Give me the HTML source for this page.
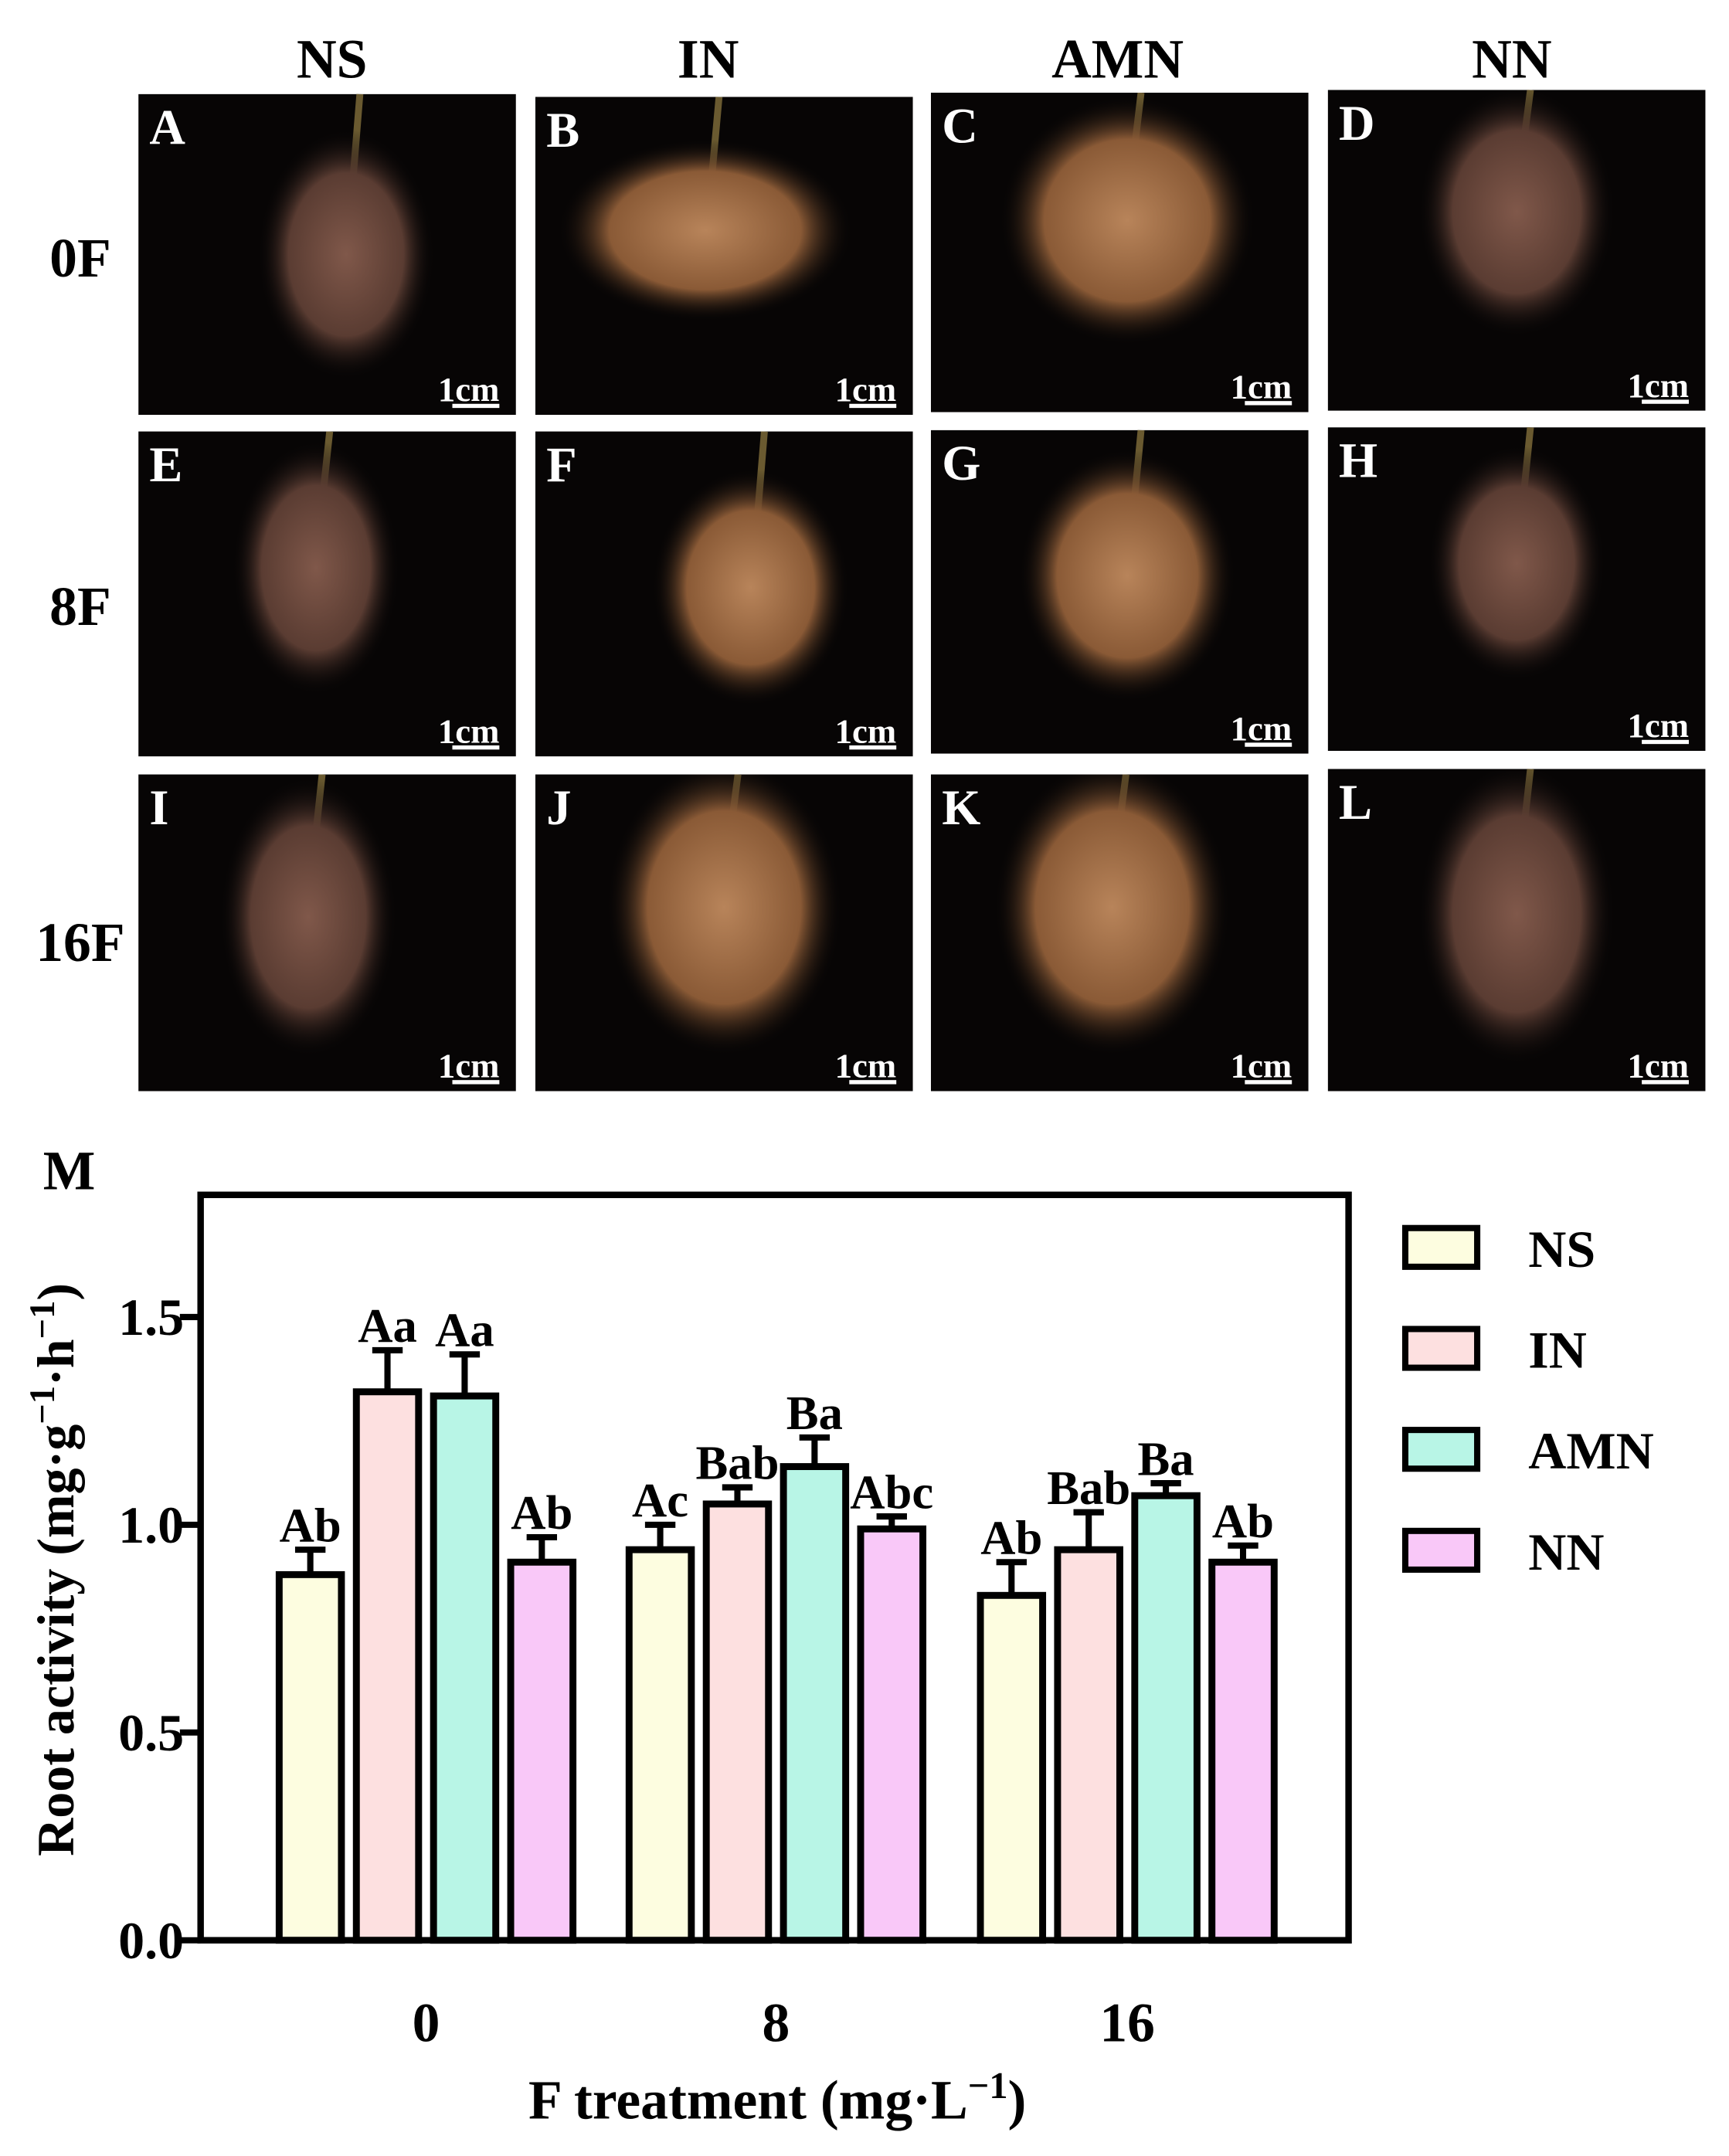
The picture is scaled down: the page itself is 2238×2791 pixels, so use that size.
<!DOCTYPE html>
<html><head><meta charset="utf-8"><style>
html,body{margin:0;padding:0;background:#fff}
svg{display:block}
text{font-family:"Liberation Serif",serif;font-weight:bold}
</style></head><body>
<svg id="fig" width="2238" height="2791" viewBox="0 0 1250 1559" xmlns="http://www.w3.org/2000/svg">
<defs>
<radialGradient id="rootA" cx="50%" cy="50%" r="50%"><stop offset="0" stop-color="#80584a"/><stop offset="0.65" stop-color="#5a3c32"/><stop offset="1" stop-color="#070505" stop-opacity="0"/></radialGradient>
<radialGradient id="rootB" cx="50%" cy="50%" r="50%"><stop offset="0" stop-color="#b8845a"/><stop offset="0.65" stop-color="#8a5a36"/><stop offset="1" stop-color="#070505" stop-opacity="0"/></radialGradient>
</defs>
<g id="photos"></g>
<g id="chart"></g>
</svg>
<script>
const NS='http://www.w3.org/2000/svg';
function mk(tag,attrs,parent,txt){const e=document.createElementNS(NS,tag);for(const k in attrs)e.setAttribute(k,attrs[k]);if(txt!==undefined)e.textContent=txt;parent.appendChild(e);return e;}

// ---- photo grid ----
const photos=document.getElementById('photos');
const defs=document.querySelector('defs');
const colHeads=['NS','IN','AMN','NN'];
const colHeadX=[240,512,808,1093];
const rowHeads=['0F','8F','16F'];
const rowHeadY=[200,452,695];
const panelLetters=['A','B','C','D','E','F','G','H','I','J','K','L'];
const panelX=[100,387,673,960];
const panelY=[[68,70,67,65],[312,312,311,309],[560,560,560,556]];
const panelH=[[232,230,231,232],[235,235,234,234],[229,229,229,233]];
const blobs=[[[0.55,0.5,0.18,0.3,'rootA'],[0.45,0.42,0.3,0.22,'rootB'],[0.52,0.4,0.26,0.3,'rootB'],[0.5,0.38,0.2,0.3,'rootA']],
[[0.47,0.42,0.17,0.3,'rootA'],[0.57,0.48,0.2,0.28,'rootB'],[0.52,0.45,0.22,0.3,'rootB'],[0.5,0.42,0.18,0.28,'rootA']],
[[0.45,0.45,0.18,0.34,'rootA'],[0.5,0.42,0.24,0.36,'rootB'],[0.48,0.42,0.24,0.36,'rootB'],[0.5,0.45,0.2,0.36,'rootA']]];
colHeads.forEach((h,i)=>{const t=mk('text',{x:colHeadX[i],y:56,'font-size':40,'text-anchor':'middle',fill:'#000'},photos,h);
});
rowHeads.forEach((h,i)=>{const t=mk('text',{x:58,y:rowHeadY[i],'font-size':40,'text-anchor':'middle',fill:'#000'},photos,h);
});
for(let r=0;r<3;r++)for(let c=0;c<4;c++){
  const x=panelX[c],y=panelY[r][c],w=273,h=panelH[r][c],L=panelLetters[r*4+c];
  const cp=mk('clipPath',{id:'clip'+L},defs);
  mk('rect',{x:x,y:y,width:w,height:h},cp);
  const g=mk('g',{'clip-path':'url(#clip'+L+')'},photos);
  
  
  mk('rect',{x:x,y:y,width:w,height:h,fill:'#070505'},g);
  const b=blobs[r][c];
  const cx=x+b[0]*w,cy=y+b[1]*h;
  mk('line',{x1:cx+10,y1:y,x2:cx+4,y2:cy-b[3]*h*0.6,stroke:'#6a5a30','stroke-width':5},g);
  mk('ellipse',{cx:cx,cy:cy,rx:b[2]*w*1.3,ry:b[3]*h*1.3,fill:'url(#'+b[4]+')'},g);
  mk('text',{x:x+8,y:y+36,'font-size':36,fill:'#fff'},g,L);
  mk('text',{x:x+w-12,y:y+h-10,'font-size':25,fill:'#fff','text-anchor':'end'},g,'1cm');
  mk('rect',{x:x+w-46,y:y+h-8,width:34,height:3,fill:'#fff'},g);
}

// ---- chart data ----
const groups=['0','8','16'];
const seriesNames=['NS','IN','AMN','NN'];
const NSvals=[0.88,0.94,0.83];
const INvals=[1.32,1.05,0.94];
const AMNvals=[1.31,1.14,1.07];
const NNvals=[0.91,0.99,0.91];
const NSerr=[0.06,0.06,0.08];
const INerr=[0.10,0.04,0.09];
const AMNerr=[0.10,0.07,0.03];
const NNerr=[0.06,0.03,0.04];
const NSlab=['Ab','Ac','Ab'];
const INlab=['Aa','Bab','Bab'];
const AMNlab=['Aa','Ba','Ba'];
const NNlab=['Ab','Abc','Ab'];
const yTicks=[0,0.5,1.0,1.5];
const yTickLabels=['0.0','0.5','1.0','1.5'];

const colors=['#fdfde0','#fde0e0','#b8f5e6','#f9c8f8'];
const vals=[NSvals,INvals,AMNvals,NNvals];
const errs=[NSerr,INerr,AMNerr,NNerr];
const labs=[NSlab,INlab,AMNlab,NNlab];
const chart=document.getElementById('chart');
const PL=145,PR=975,PT=864,PB=1403,YMAX=1.794;
const yS=v=>PB-(v/YMAX)*(PB-PT);
const gx=[308,561,815];
const xS=(gi,si)=>gx[gi]+(si-1.5)*55.8;
const BW=45;

const frame=mk('rect',{x:PL,y:PT,width:PR-PL,height:PB-PT,fill:'none',stroke:'#000','stroke-width':4.7},chart);

yTicks.forEach((v,i)=>{
  mk('line',{x1:PL-15,y1:yS(v),x2:PL,y2:yS(v),stroke:'#000','stroke-width':4.5},chart);
  const t=mk('text',{x:PL-12,y:yS(v)+13,'font-size':38,'text-anchor':'end'},chart,yTickLabels[i]);
  
});
groups.forEach((gname,gi)=>{
  const t=mk('text',{x:gx[gi],y:1476,'font-size':40,'text-anchor':'middle'},chart,gname);
  
  for(let si=0;si<4;si++){
    const cx=xS(gi,si),v=vals[si][gi],e=errs[si][gi];
    const ey=yS(v+e);
    mk('line',{x1:cx,y1:yS(v),x2:cx,y2:ey,stroke:'#000','stroke-width':4.5},chart);
    mk('line',{x1:cx-11,y1:ey,x2:cx+11,y2:ey,stroke:'#000','stroke-width':4.5},chart);
    const bar=mk('rect',{x:cx-BW/2,y:yS(v),width:BW,height:PB-yS(v),fill:colors[si],stroke:'#000','stroke-width':5},chart);
    
    
    const lt=mk('text',{x:cx,y:ey-6,'font-size':35,'text-anchor':'middle'},chart,labs[si][gi]);
    
  }
});
seriesNames.forEach((n,i)=>{
  const y=902+i*73;
  const g=mk('g',{},chart);
  
  
  mk('rect',{x:1016,y:y-14,width:52,height:28,fill:colors[i],stroke:'#000','stroke-width':4.5},g);
  mk('text',{x:1105,y:y+14,'font-size':38},g,n);
});
const ttl=mk('text',{x:0,y:0,'font-size':38,'text-anchor':'middle',transform:'translate(53,1135) rotate(-90)'},chart);

ttl.innerHTML='Root activity (mg·g<tspan dy="-14" font-size="26">−1</tspan><tspan dy="14">·h</tspan><tspan dy="-14" font-size="26">−1</tspan><tspan dy="14">)</tspan>';
const xt=mk('text',{x:562,y:1532,'font-size':40,'text-anchor':'middle'},chart);

xt.innerHTML='F treatment (mg·L<tspan dy="-15" font-size="27">−1</tspan><tspan dy="15">)</tspan>';
const m=mk('text',{x:50,y:860,'font-size':40,'text-anchor':'middle'},chart,'M');

</script>
</body></html>
